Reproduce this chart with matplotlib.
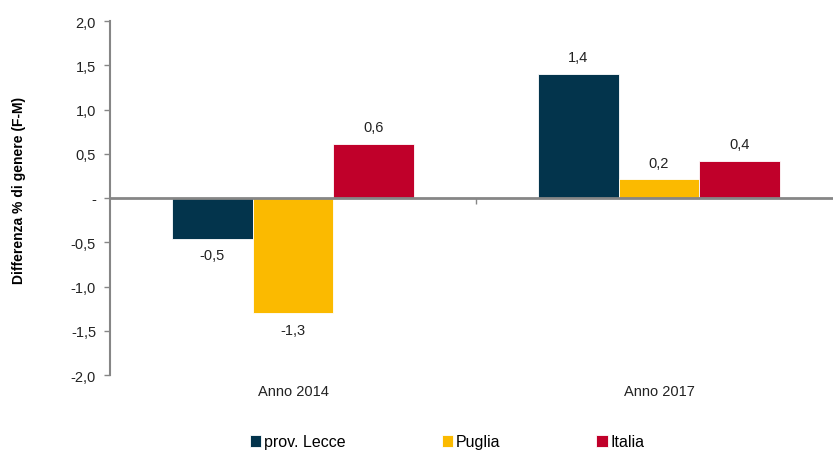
import numpy as np
import matplotlib.pyplot as plt
from matplotlib.ticker import FuncFormatter

plt.rcParams['font.family'] = ['Liberation Sans', 'DejaVu Sans']

years = ['Anno 2014', 'Anno 2017']
series = ['prov. Lecce', 'Puglia', 'Italia']
lecce = [-0.46, 1.40]
puglia = [-1.30, 0.21]
italia = [0.61, 0.42]
colors = ['#03344C', '#FBBA00', '#C0002A']

fig = plt.figure(figsize=(8.33, 4.56), dpi=100)
# axes spans past the right edge like the original
ax = fig.add_axes([110 / 833, 1 - 376 / 456, 732 / 833, 354 / 456])

x = np.arange(len(years)) + 0.5
w = 0.221
for i, (vals, name) in enumerate(zip([lecce, puglia, italia], series)):
    bars = ax.bar(x + (i - 1) * w, vals, w, color=colors[i], label=name,
                  edgecolor='white', linewidth=0.6, zorder=2)
    ax.bar_label(bars, labels=[f'{v:.1f}'.replace('.', ',') for v in vals],
                 padding=7, fontsize=10.5, color='#222222')

ax.set_xlim(0, 2)
ax.set_ylim(-2, 2)
ax.set_yticks(np.arange(-2, 2.01, 0.5))
ax.yaxis.set_major_formatter(FuncFormatter(
    lambda v, p: '-' if abs(v) < 1e-9 else f'{v:.1f}'.replace('.', ',')))
ax.tick_params(axis='y', direction='out', length=4, width=1, color='#868686',
               labelsize=10.5, labelcolor='#222222', pad=6)

ax.spines['top'].set_visible(False)
ax.spines['right'].set_visible(False)
ax.spines['left'].set_color('#868686')
ax.spines['left'].set_linewidth(1.5)
ax.spines['bottom'].set_position(('data', 0))
ax.spines['bottom'].set_color('#868686')
ax.spines['bottom'].set_linewidth(2)
ax.spines['bottom'].set_zorder(3)

ax.set_xticks([1])
ax.set_xticklabels([''])
ax.tick_params(axis='x', direction='out', length=4, width=1, color='#868686')
for xi, lab in zip(x, years):
    ax.text(xi, -0.045, lab, transform=ax.get_xaxis_transform(),
            ha='center', va='center', fontsize=10.5, color='#222222')

ax.set_ylabel('Differenza % di genere (F-M)', fontsize=10, fontweight='bold')
ax.yaxis.set_label_coords(-0.115, 0.525)

fig.legend(loc='center', bbox_to_anchor=(0.537, 1 - 443 / 456), ncol=3,
           frameon=False, fontsize=11.5, handlelength=0.7, handleheight=0.7,
           handletextpad=0.2, columnspacing=6.0)

fig.savefig('out.png', dpi=100)
